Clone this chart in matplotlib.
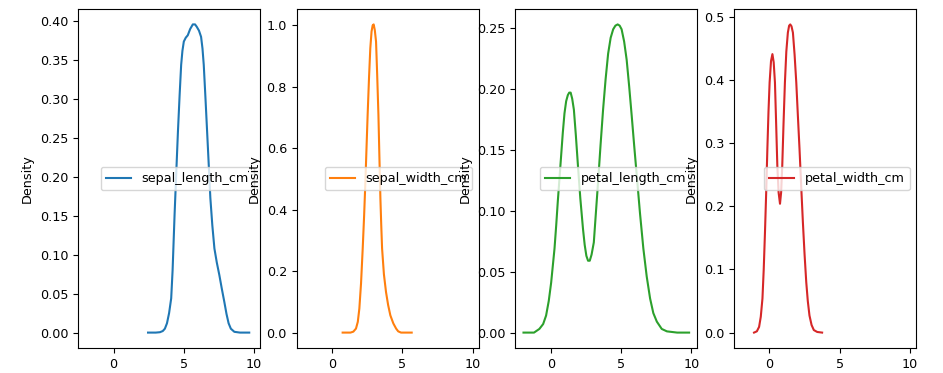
import matplotlib
matplotlib.use("Agg")
import matplotlib.pyplot as plt

# density curves
sl_x = [2.45, 3.0, 3.3, 3.5, 3.65, 3.8, 3.95, 4.1, 4.2, 4.34, 4.46, 4.58,
        4.7, 4.81, 4.9, 5.0, 5.14, 5.28, 5.45, 5.64, 5.8, 5.92, 6.08, 6.23,
        6.33, 6.42, 6.54, 6.66, 6.78, 6.89, 7.03, 7.18, 7.35, 7.53, 7.7,
        7.89, 8.04, 8.19, 8.35, 8.6, 9.0, 9.66]
sl_y = [0.0, 0.0, 0.0005, 0.002, 0.005, 0.012, 0.025, 0.044, 0.08, 0.151,
        0.205, 0.258, 0.305, 0.344, 0.362, 0.374, 0.379, 0.382, 0.390,
        0.396, 0.396, 0.393, 0.388, 0.380, 0.365, 0.344, 0.302, 0.258,
        0.214, 0.173, 0.138, 0.108, 0.090, 0.074, 0.057, 0.039, 0.024,
        0.012, 0.005, 0.001, 0.0, 0.0]

sw_x = [0.74, 1.3, 1.5, 1.69, 1.82, 1.93, 2.05, 2.17, 2.27, 2.36, 2.44,
        2.52, 2.62, 2.71, 2.8, 2.88, 2.95, 3.03, 3.12, 3.2, 3.29, 3.36,
        3.43, 3.49, 3.55, 3.68, 3.83, 3.98, 4.14, 4.35, 4.55, 4.7, 4.9, 5.66]
sw_y = [0.0, 0.0, 0.003, 0.013, 0.035, 0.078, 0.16, 0.274, 0.38, 0.49, 0.60,
        0.708, 0.83, 0.925, 0.98, 1.0, 1.003, 0.985, 0.947, 0.84, 0.708,
        0.57, 0.437, 0.35, 0.274, 0.19, 0.132, 0.09, 0.056, 0.03, 0.013,
        0.004, 0.0, 0.0]

pl_x = [-1.95, -1.2, -0.82, -0.55, -0.34, -0.15, 0.02, 0.14, 0.26, 0.38,
        0.49, 0.61, 0.73, 0.85, 0.97, 1.09, 1.21, 1.31, 1.41, 1.52, 1.64,
        1.78, 1.93, 2.1, 2.29, 2.41, 2.53, 2.65, 2.77, 2.9, 3.06, 3.2, 3.36,
        3.54, 3.72, 3.9, 4.08, 4.26, 4.44, 4.6, 4.76, 4.9, 5.04, 5.22, 5.4,
        5.58, 5.76, 5.94, 6.12, 6.35, 6.59, 6.83, 7.07, 7.3, 7.55, 7.9,
        8.27, 9.0, 9.85]
pl_y = [0.0, 0.0, 0.003, 0.007, 0.014, 0.026, 0.041, 0.055, 0.069, 0.088,
        0.107, 0.126, 0.145, 0.164, 0.180, 0.190, 0.195, 0.197, 0.197,
        0.192, 0.183, 0.162, 0.137, 0.110, 0.085, 0.072, 0.063, 0.059,
        0.059, 0.064, 0.074, 0.097, 0.123, 0.154, 0.183, 0.208, 0.229,
        0.242, 0.249, 0.252, 0.253, 0.252, 0.249, 0.239, 0.224, 0.202,
        0.178, 0.153, 0.129, 0.098, 0.069, 0.046, 0.028, 0.016, 0.009,
        0.003, 0.001, 0.0, 0.0]

pw_x = [-1.1, -0.9, -0.74, -0.62, -0.5, -0.41, -0.32, -0.23, -0.15, -0.07,
        0.01, 0.11, 0.21, 0.3, 0.39, 0.47, 0.56, 0.65, 0.75, 0.83, 0.91,
        1.0, 1.1, 1.2, 1.31, 1.4, 1.48, 1.57, 1.67, 1.79, 1.91, 2.02, 2.14,
        2.26, 2.38, 2.5, 2.62, 2.73, 2.85, 3.0, 3.16, 3.4, 3.75]
pw_y = [0.0, 0.002, 0.009, 0.025, 0.054, 0.10, 0.159, 0.225, 0.291, 0.35,
        0.396, 0.430, 0.441, 0.428, 0.396, 0.335, 0.264, 0.222, 0.204,
        0.222, 0.264, 0.33, 0.396, 0.445, 0.475, 0.486, 0.488, 0.485,
        0.475, 0.44, 0.396, 0.345, 0.291, 0.232, 0.175, 0.124, 0.080,
        0.05, 0.027, 0.012, 0.004, 0.001, 0.0]

names = ["sepal_length_cm", "sepal_width_cm", "petal_length_cm",
         "petal_width_cm"]
curves = [(sl_x, sl_y), (sw_x, sw_y), (pl_x, pl_y), (pw_x, pw_y)]
colors = ["#1f77b4", "#ff7f0e", "#2ca02c", "#d62728"]

plt.rcParams["font.size"] = 9.2

fig, axes = plt.subplots(1, 4, sharex=True, figsize=(9.43, 3.73), dpi=100)
fig.subplots_adjust(left=78 / 943, right=916 / 943, bottom=1 - 348 / 373,
                    top=1 - 9 / 373, wspace=0.2)

for ax, name, (x, y), c in zip(axes, names, curves, colors):
    ax.plot(x, y, color=c, lw=1.5, label=name)
    ax.set_ylabel("Density")
    ax.legend(loc="center right")

fig.savefig("out.png", dpi=100)
